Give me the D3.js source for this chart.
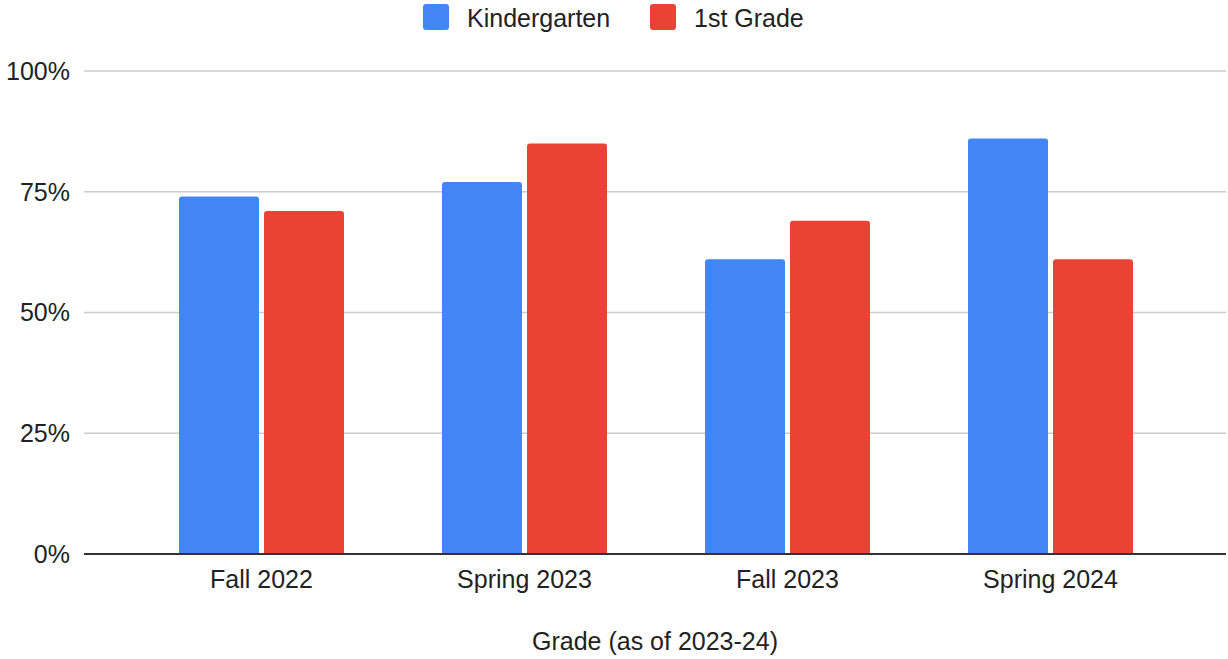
<!DOCTYPE html>
<html>
<head>
<meta charset="utf-8">
<style>
  body { margin: 0; background: #fff; }
  text { font-family: "Liberation Sans", Arial, sans-serif; fill: #222; }
</style>
</head>
<body>
<svg width="1228" height="659"></svg>
<script src="https://d3js.org/d3.v7.min.js"></script>
<script>

var categories = ['Fall 2022', 'Spring 2023', 'Fall 2023', 'Spring 2024']
var seriesNames = ['Kindergarten', '1st Grade']
var kindergarten = [74, 77, 61, 86]
var firstGrade = [71, 85, 69, 61]
var yTicks = [0, 25, 50, 75, 100]
var colors = ['#4285f4', '#ea4335']

var values = [kindergarten, firstGrade]

var svg = d3.select('svg')

// plot area
var plotLeft = 84, plotRight = 1226, plotTop = 71, plotBottom = 554

var y = d3.scaleLinear().domain([0, 100]).range([plotBottom, plotTop])

// groups are centred 263px apart
var x0 = d3.scaleBand().domain(categories).range([130, 1182]).padding(0)
var x1 = d3.scaleBand().domain(seriesNames).range([-82.5, 82.5]).paddingInner(5 / 85)

// gridlines
svg.append('g')
  .selectAll('line')
  .data(yTicks.filter(function (t) { return t > 0 }))
  .enter().append('line')
  .attr('x1', plotLeft).attr('x2', plotRight)
  .attr('y1', function (t) { return y(t) })
  .attr('y2', function (t) { return y(t) })
  .attr('stroke', '#cccccc')
  .attr('stroke-width', 1.5)

// y tick labels
svg.append('g')
  .selectAll('text')
  .data(yTicks)
  .enter().append('text')
  .attr('x', 70)
  .attr('y', function (t) { return y(t) })
  .attr('dy', '0.35em')
  .attr('text-anchor', 'end')
  .attr('font-size', 25)
  .text(function (t) { return t + '%' })

// bars with small rounded tops
function barPath(x, w, yTop, yBase, r) {
  r = Math.min(r, (yBase - yTop))
  return 'M' + x + ',' + yBase +
    'V' + (yTop + r) +
    'Q' + x + ',' + yTop + ' ' + (x + r) + ',' + yTop +
    'H' + (x + w - r) +
    'Q' + (x + w) + ',' + yTop + ' ' + (x + w) + ',' + (yTop + r) +
    'V' + yBase + 'Z'
}

var groups = svg.append('g')
  .selectAll('g')
  .data(categories)
  .enter().append('g')
  .attr('transform', function (c) { return 'translate(' + (x0(c) + x0.bandwidth() / 2) + ',0)' })

groups.selectAll('path')
  .data(function (c, i) {
    return seriesNames.map(function (s, j) { return { s: s, j: j, v: values[j][i] } })
  })
  .enter().append('path')
  .attr('d', function (d) { return barPath(x1(d.s), x1.bandwidth(), y(d.v), y(0), 3) })
  .attr('fill', function (d) { return colors[d.j] })

// baseline
svg.append('line')
  .attr('x1', plotLeft).attr('x2', plotRight)
  .attr('y1', y(0)).attr('y2', y(0))
  .attr('stroke', '#333333')
  .attr('stroke-width', 2)

// x labels
svg.append('g')
  .selectAll('text')
  .data(categories)
  .enter().append('text')
  .attr('x', function (c) { return x0(c) + x0.bandwidth() / 2 })
  .attr('y', 588)
  .attr('text-anchor', 'middle')
  .attr('font-size', 25)
  .text(function (c) { return c })

// axis title
svg.append('text')
  .attr('x', 655)
  .attr('y', 650)
  .attr('text-anchor', 'middle')
  .attr('font-size', 25)
  .text('Grade (as of 2023-24)')

// legend
var legendX = [423, 650]
var legend = svg.append('g')
  .selectAll('g')
  .data(seriesNames)
  .enter().append('g')
  .attr('transform', function (s, i) { return 'translate(' + legendX[i] + ',4)' })

legend.append('rect')
  .attr('width', 26).attr('height', 26)
  .attr('rx', 3)
  .attr('fill', function (s, i) { return colors[i] })

legend.append('text')
  .attr('x', 44)
  .attr('y', 23)
  .attr('font-size', 25)
  .text(function (s) { return s })

</script>
</body>
</html>
